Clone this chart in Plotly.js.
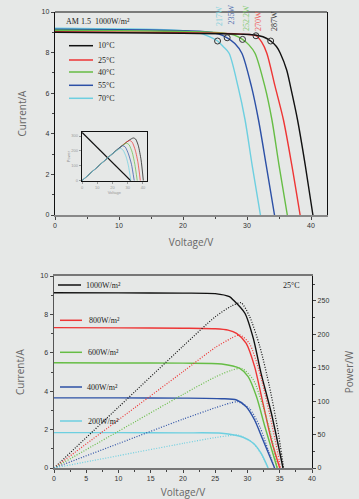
<!DOCTYPE html>
<html>
<head>
<meta charset="utf-8">
<script src="https://cdn.plot.ly/plotly-3.0.1.min.js"></script>
<style>html,body{margin:0;padding:0;background:#e6e8e7;}#chart{width:359px;height:499px;}</style>
</head>
<body>
<div id="chart"></div>
<script>
// ---------- DATA: top chart (I-V vs temperature, AM1.5 1000W/m2) ----------
const tempLabels = ['10°C', '25°C', '40°C', '55°C', '70°C'];
const v10 = [0, 10, 20, 26, 29, 31, 32.5, 33.7, 34.6, 35.2, 36.2, 36.8, 37.9, 39.1, 40.3];
const i10 = [9.00, 8.98, 8.95, 8.93, 8.91, 8.88, 8.78, 8.57, 8.30, 7.97, 7.14, 6.32, 4.68, 2.46, 0];
const v25 = [0, 10, 20, 25, 28, 30, 31.4, 32.3, 33.1, 34.4, 35.7, 37.0, 38.3];
const i25 = [9.03, 9.01, 8.98, 8.96, 8.93, 8.90, 8.83, 8.52, 7.97, 6.32, 4.68, 2.46, 0];
const v40 = [0, 10, 20, 24, 26.5, 28, 29.3, 30.3, 31.25, 32.8, 33.9, 35.0, 36.3];
const i40 = [9.10, 9.08, 9.04, 9.01, 8.96, 8.86, 8.65, 8.38, 7.97, 6.32, 4.68, 2.46, 0];
const v55 = [0, 10, 20, 23, 25.5, 26.9, 28.1, 29.2, 30.7, 31.8, 33.0, 34.3];
const i55 = [9.15, 9.13, 9.08, 9.04, 8.93, 8.73, 8.45, 7.97, 6.32, 4.68, 2.46, 0];
const v70 = [0, 10, 18, 22, 24.2, 25.4, 26.3, 27.2, 28.6, 29.7, 30.8, 32.1];
const i70 = [9.20, 9.17, 9.12, 9.01, 8.78, 8.57, 8.29, 7.97, 6.32, 4.68, 2.46, 0];
// maximum power points
const mppV = [33.7, 31.4, 29.3, 26.9, 25.4];
const mppI = [8.57, 8.83, 8.65, 8.73, 8.57];
const mppLabels = ['287W', '270W', '252.2W', '235W', '217W'];

// inset P-V curves
const insV10 = [0, 20, 31, 33.7, 35.2, 37, 38.8, 40.3];
const insP10 = [0, 180, 272, 287, 280, 235, 140, 0];
const insV25 = [0, 20, 29, 31.4, 33, 35, 36.8, 38.3];
const insP25 = [0, 181, 258, 270, 258, 205, 120, 0];
const insV40 = [0, 20, 27, 29.3, 31, 33, 34.7, 36.3];
const insP40 = [0, 182, 240, 252, 240, 190, 110, 0];
const insV55 = [0, 20, 25, 26.9, 28.5, 30.5, 32.5, 34.3];
const insP55 = [0, 182, 225, 235, 225, 180, 110, 0];
const insV70 = [0, 20, 24, 25.4, 27, 29, 30.5, 32.1];
const insP70 = [0, 180, 210, 217, 205, 160, 100, 0];
const insDiagV = [0, 32];
const insDiagP = [325, 0];

// ---------- DATA: bottom chart (I-V and P-V vs irradiance, 25°C) ----------
const irrLabels = ['1000W/m²', '800W/m²', '600W/m²', '400W/m²', '200W/m²'];
const bv1000 = [0, 10, 20, 25, 27.2, 27.8, 29.6, 30.9, 32.1, 33.7, 35.5];
const bi1000 = [9.13, 9.12, 9.11, 9.08, 8.92, 8.75, 8.06, 6.75, 4.93, 2.85, 0];
const bv800 = [0, 10, 20, 25, 27, 28.3, 29.8, 31.1, 32.4, 33.7, 35.0];
const bi800 = [7.31, 7.30, 7.28, 7.25, 7.18, 7.01, 6.49, 5.28, 3.37, 1.46, 0];
const bv600 = [0, 10, 20, 26, 28.8, 30.1, 31.4, 32.7, 34.6];
const bi600 = [5.48, 5.47, 5.46, 5.42, 5.19, 4.76, 3.71, 2.15, 0];
const bv400 = [0, 10, 20, 26, 28.3, 29.8, 31.1, 32.4, 34.2];
const bi400 = [3.65, 3.65, 3.64, 3.61, 3.54, 3.19, 2.50, 1.46, 0];
const bv200 = [0, 10, 20, 26, 29.3, 30.9, 32.1, 33.2];
const bi200 = [1.84, 1.84, 1.83, 1.81, 1.60, 1.29, 0.77, 0];

const pv1000 = [0, 10, 20, 25, 27.5, 29.0, 30.3, 31.9, 33.4, 34.7, 35.6];
const pp1000 = [0, 91, 182, 226, 242, 247, 227, 182, 122, 57, 0];
const pv800 = [0, 10, 20, 25, 27.5, 28.8, 30.3, 31.9, 33.4, 34.7, 35.1];
const pp800 = [0, 72, 144, 180, 194, 199, 186, 142, 82, 22, 0];
const pv600 = [0, 10, 20, 25, 27.5, 29.1, 30.9, 32.4, 33.7, 34.6];
const pp600 = [0, 55, 110, 136, 146, 149, 132, 92, 47, 0];
const pv400 = [0, 10, 20, 25, 27.3, 28.5, 30.3, 31.9, 33.2, 34.2];
const pp400 = [0, 36.5, 73, 90, 97, 99, 89, 62, 27, 0];
const pv200 = [0, 10, 20, 25, 27.3, 28.5, 30.9, 32.1, 33.2];
const pp200 = [0, 18.4, 36.8, 45.5, 48.5, 49.4, 37, 21, 0];

// ---------- STYLE ----------
const colors = ['#111111', '#ee3535', '#66bd45', '#2c50a6', '#6dcfe0'];
const labelColors = ['#333333', '#f05555', '#80c870', '#5470b0', '#7fcfdc'];
const BG = '#e6e8e7';
const W = 359, H = 499;
const px = x => x / W;
const py = y => 1 - y / H;
const serif = 'Liberation Serif';
const sans = 'Liberation Sans';

const topV = [v10, v25, v40, v55, v70];
const topI = [i10, i25, i40, i55, i70];
const insV = [insV10, insV25, insV40, insV55, insV70];
const insP = [insP10, insP25, insP40, insP55, insP70];
const botV = [bv1000, bv800, bv600, bv400, bv200];
const botI = [bi1000, bi800, bi600, bi400, bi200];
const powV = [pv1000, pv800, pv600, pv400, pv200];
const powP = [pp1000, pp800, pp600, pp400, pp200];

const traces = [];
for (let k = 4; k >= 0; k--) {
  traces.push({x: topV[k], y: topI[k], xaxis: 'x', yaxis: 'y', mode: 'lines', name: tempLabels[k],
    line: {color: colors[k], width: 1.4, shape: 'spline', smoothing: 0.8}, showlegend: false, hoverinfo: 'skip'});
}
traces.push({x: mppV, y: mppI, xaxis: 'x', yaxis: 'y', mode: 'markers', showlegend: false,
  marker: {symbol: 'circle-open', size: 6, color: '#333', line: {width: 1}}});
// inset
traces.push({x: insDiagV, y: insDiagP, xaxis: 'x4', yaxis: 'y4', mode: 'lines', showlegend: false,
  line: {color: '#111', width: 1.2}});
for (let k = 0; k < 5; k++) {
  traces.push({x: insV[k], y: insP[k], xaxis: 'x4', yaxis: 'y4', mode: 'lines', showlegend: false, opacity: 0.8,
    line: {color: colors[k], width: 0.9, shape: 'spline', smoothing: 0.6}});
}
// bottom
for (let k = 0; k < 5; k++) {
  traces.push({x: botV[k], y: botI[k], xaxis: 'x2', yaxis: 'y2', mode: 'lines', name: irrLabels[k], showlegend: false,
    line: {color: colors[k], width: 1.4, shape: 'spline', smoothing: 0.7}});
  traces.push({x: powV[k], y: powP[k], xaxis: 'x2', yaxis: 'y3', mode: 'lines', showlegend: false,
    line: {color: colors[k], width: 1.2, dash: '1px,1.6px', shape: 'spline', smoothing: 0.7}});
}

const tickFont = {family: sans, size: 7, color: '#333'};
const titleFont = {family: 'Open Sans', size: 10, color: '#666'};
const insFont = {family: sans, size: 4, color: '#999'};

const annotations = [];
const shapes = [];
// top chart legend
const topLegY = [45.7, 60, 72, 85.3, 98.3];
for (let k = 0; k < 5; k++) {
  shapes.push({type: 'line', xref: 'paper', yref: 'paper', x0: px(69), x1: px(93), y0: py(topLegY[k]), y1: py(topLegY[k]),
    line: {color: colors[k], width: 1.5}});
  annotations.push({text: tempLabels[k], xref: 'paper', yref: 'paper', x: px(96), y: py(topLegY[k]), xanchor: 'left', yanchor: 'middle',
    showarrow: false, font: {family: serif, size: 8, color: '#222'}});
}
annotations.push({text: 'AM 1.5  1000W/m²', xref: 'paper', yref: 'paper', x: px(64), y: py(21), xanchor: 'left', yanchor: 'middle',
  showarrow: false, font: {family: serif, size: 8, color: '#222'}});
// MPP labels (rotated)
const mppLabX = [274.5, 258, 246.5, 230.5, 219];
const mppLabY = [21.5, 21, 17.5, 15, 16];
for (let k = 0; k < 5; k++) {
  annotations.push({text: mppLabels[k], xref: 'paper', yref: 'paper', x: px(mppLabX[k]), y: py(mppLabY[k]), xanchor: 'center', yanchor: 'middle',
    textangle: -90, showarrow: false, font: {family: serif, size: 8, color: labelColors[k]}});
}
// top border of the top chart
shapes.push({type: 'line', xref: 'paper', yref: 'paper', x0: px(55), x1: px(327), y0: py(12), y1: py(12), line: {color: '#111', width: 1.2}});
// bottom chart legend
const botLegY = [285, 320.3, 352.3, 387, 421];
const botLegX0 = [58, 60, 60, 60, 60];
const botLegX1 = [81, 82, 82, 82, 82];
const botLegTX = [84, 87, 86, 85, 86];
for (let k = 0; k < 5; k++) {
  shapes.push({type: 'line', xref: 'paper', yref: 'paper', x0: px(botLegX0[k]), x1: px(botLegX1[k]), y0: py(botLegY[k]), y1: py(botLegY[k]),
    line: {color: colors[k], width: 1.5}});
  annotations.push({text: irrLabels[k], xref: 'paper', yref: 'paper', x: px(botLegTX[k]), y: py(botLegY[k]), xanchor: 'left', yanchor: 'middle',
    showarrow: false, font: {family: serif, size: 8, color: '#222'}});
}
annotations.push({text: '25°C', xref: 'paper', yref: 'paper', x: px(291), y: py(285.6), xanchor: 'center', yanchor: 'middle',
  showarrow: false, font: {family: serif, size: 8, color: '#222'}});

const layout = {
  width: W, height: H,
  margin: {l: 0, r: 0, t: 0, b: 0},
  paper_bgcolor: BG, plot_bgcolor: BG,
  showlegend: false,
  xaxis: {domain: [px(55), px(327)], range: [0, 42.5], anchor: 'y', showgrid: false, zeroline: false,
    showline: true, linecolor: '#888', linewidth: 2, ticks: 'outside', ticklen: 3, tickcolor: '#444', dtick: 10, tick0: 0,
    minor: {dtick: 5, ticks: 'outside', ticklen: 2, tickcolor: '#444'}, tickfont: tickFont,
    title: {text: 'Voltage/V', font: titleFont, standoff: 11}},
  yaxis: {domain: [py(215), py(12)], range: [0, 10], anchor: 'x', showgrid: false, zeroline: false,
    showline: true, linecolor: '#111', linewidth: 1.2, mirror: true, ticks: 'outside', ticklen: 3, tickcolor: '#444', dtick: 2,
    minor: {dtick: 1, ticks: 'outside', ticklen: 2, tickcolor: '#444'}, tickfont: tickFont,
    title: {text: 'Current/A', font: titleFont, standoff: 13}},
  xaxis4: {domain: [px(82), px(146.7)], range: [0, 42.5], anchor: 'y4', showgrid: false, zeroline: false,
    showline: true, mirror: true, linecolor: '#111', linewidth: 1.2, ticks: 'outside', ticklen: 2, tickwidth: 0.6, tickcolor: '#666',
    dtick: 10, tickfont: insFont,
    title: {text: 'Voltage', font: insFont, standoff: 1}},
  yaxis4: {domain: [py(180.7), py(132.3)], range: [0, 325], anchor: 'x4', showgrid: false, zeroline: false,
    showline: true, mirror: true, linecolor: '#111', linewidth: 1.2, ticks: 'outside', ticklen: 2, tickwidth: 0.6, tickcolor: '#666',
    dtick: 100, tickfont: insFont,
    title: {text: 'Power', font: insFont, standoff: 1}},
  xaxis2: {domain: [px(54), px(312)], range: [0, 40], anchor: 'y2', showgrid: false, zeroline: false,
    showline: true, linecolor: '#777', linewidth: 2, mirror: true, ticks: 'outside', ticklen: 3, tickcolor: '#444', dtick: 5, tick0: 0,
    minor: {dtick: 2.5, ticks: 'outside', ticklen: 2, tickcolor: '#444'}, tickfont: tickFont,
    title: {text: 'Voltage/V', font: titleFont, standoff: 19}},
  yaxis2: {domain: [py(468), py(276)], range: [0, 10], anchor: 'x2', showgrid: false, zeroline: false,
    showline: true, linecolor: '#555', linewidth: 1.5, ticks: 'outside', ticklen: 3, tickcolor: '#444', dtick: 2,
    minor: {dtick: 1, ticks: 'outside', ticklen: 2, tickcolor: '#444'}, tickfont: tickFont,
    title: {text: 'Current/A', font: titleFont, standoff: 14}},
  yaxis3: {overlaying: 'y2', side: 'right', anchor: 'x2', range: [0, 287], showgrid: false, zeroline: false,
    showline: true, linecolor: '#111', linewidth: 1.2, ticks: 'outside', ticklen: 3, tickcolor: '#444', dtick: 50,
    minor: {dtick: 25, ticks: 'outside', ticklen: 2, tickcolor: '#444'}, tickfont: tickFont,
    title: {text: 'Power/W', font: titleFont, standoff: 17}},
  shapes: shapes,
  annotations: annotations
};

Plotly.newPlot('chart', traces, layout, {staticPlot: true, displayModeBar: false});
</script>
</body>
</html>
